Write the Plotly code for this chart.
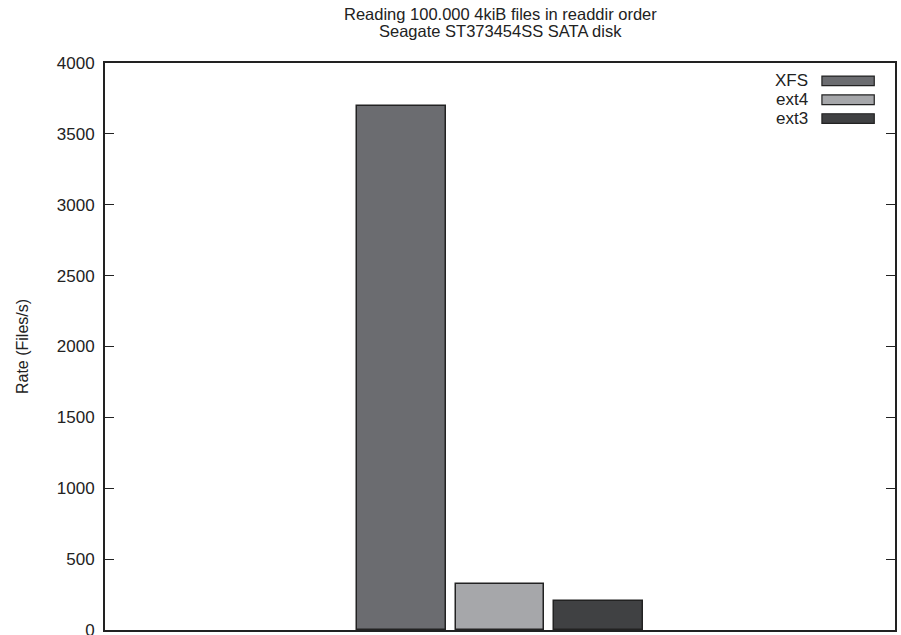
import plotly.graph_objects as go

series = ["XFS", "ext4", "ext3"]
rates = [3697, 325, 205]
colors = ["#6b6c70", "#a6a7aa", "#404143"]
positions = [-1, 0, 1]
y_ticks = [0, 500, 1000, 1500, 2000, 2500, 3000, 3500, 4000]
title_lines = ["Reading 100.000 4kiB files in readdir order", "Seagate ST373454SS SATA disk"]

fig = go.Figure()
for name, val, col, pos in zip(series, rates, colors, positions):
    fig.add_trace(go.Bar(
        x=[pos], y=[val], name=name, width=0.9,
        marker=dict(color=col, line=dict(color="#222222", width=1.5)),
        showlegend=False,
    ))

# manual legend (gnuplot style: label right-aligned, swatch on right)
for i, (name, col) in enumerate(zip(series, colors)):
    ytop = 3900 - i * 133
    fig.add_shape(type="rect", xref="x", yref="y",
                  x0=3.26, x1=3.79, y0=ytop - 60, y1=ytop + 8,
                  fillcolor=col, line=dict(color="#222222", width=1.2))
    fig.add_annotation(x=3.14, y=ytop - 22, xref="x", yref="y", text=name,
                       showarrow=False, xanchor="right", yanchor="middle",
                       font=dict(size=17, color="#222222"))

for i, line in enumerate(title_lines):
    fig.add_annotation(text=line, x=0.5, xref="paper", y=1, yref="paper",
                       yshift=49 - 17 * i, yanchor="middle", xanchor="center",
                       showarrow=False, font=dict(size=16.5, color="#222222"))

fig.update_layout(
    width=901, height=635,
    margin=dict(l=105, r=6, t=63, b=5),
    paper_bgcolor="white", plot_bgcolor="white",
    font=dict(family="Liberation Sans, Arial, sans-serif", size=17, color="#222222"),
    bargap=0,
)
fig.update_xaxes(range=[-4, 4], showticklabels=False, ticks="", showgrid=False,
                 zeroline=False, showline=True, linecolor="#222222", linewidth=2, mirror=True,
                 automargin=False)
fig.update_yaxes(range=[0, 4000], tickvals=y_ticks, ticks="inside", ticklen=9,
                 tickcolor="#222222", tickwidth=1, showgrid=False, zeroline=False,
                 showline=True, linecolor="#222222", linewidth=2, mirror="ticks",
                 ticklabeloverflow="allow", ticklabelstandoff=5, automargin=False,
                 title=dict(text="Rate (Files/s)", standoff=24, font=dict(size=16)),
                 tickfont=dict(size=17))

fig.write_html("out.html")
